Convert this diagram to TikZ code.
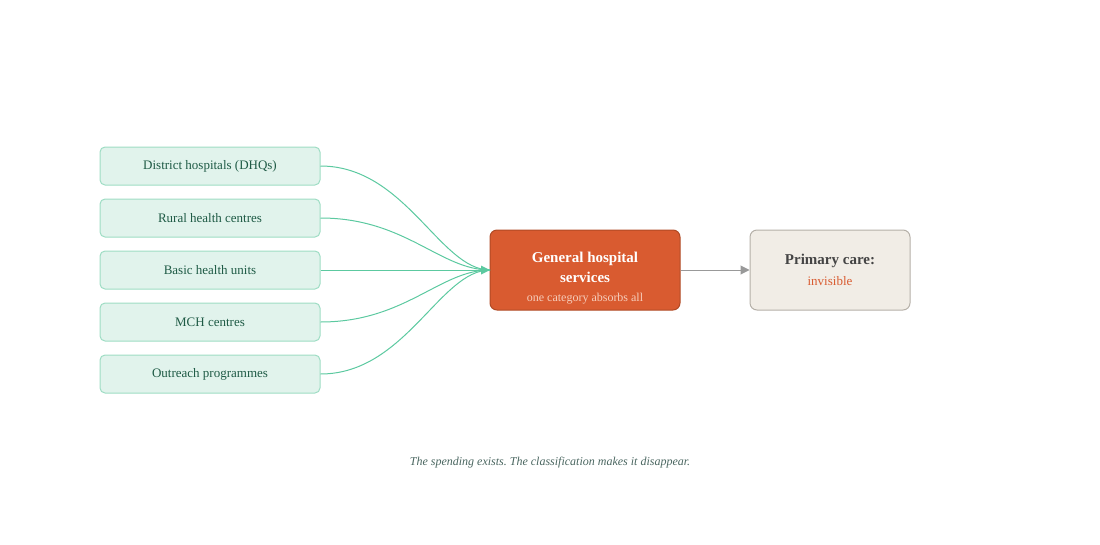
\documentclass[tikz,border=0pt]{standalone}
\usepackage{fontspec}
\setmainfont{Liberation Serif}
\usetikzlibrary{arrows.meta,calc}
\frenchspacing
\definecolor{srcfill}{HTML}{E1F3EC}
\definecolor{srcdraw}{HTML}{9EDDC4}
\definecolor{srctext}{HTML}{1E5A45}
\definecolor{linkc}{HTML}{5CC9A0}
\definecolor{hubfill}{HTML}{D95B30}
\definecolor{hubdraw}{HTML}{B04A25}
\definecolor{hubsub}{HTML}{F6CDBB}
\definecolor{pcfill}{HTML}{F1EDE6}
\definecolor{pcdraw}{HTML}{B5B0A8}
\definecolor{pctext}{HTML}{444444}
\definecolor{grayarrow}{HTML}{999999}
\definecolor{captionc}{HTML}{4A6660}
\tikzset{
  src/.style={draw=srcdraw, fill=srcfill, rounded corners=5pt, line width=1pt,
    minimum width=220pt, minimum height=38pt, inner sep=0pt, text=srctext,
    font=\fontsize{13}{15}\selectfont},
  hub/.style={draw=hubdraw, fill=hubfill, rounded corners=7pt, line width=1pt,
    minimum width=190pt, minimum height=80pt, inner sep=0pt},
  pc/.style={draw=pcdraw, fill=pcfill, rounded corners=7pt, line width=1pt,
    minimum width=160pt, minimum height=80pt, inner sep=0pt},
  link/.style={draw=linkc, line width=1pt},
  txt/.style={inner sep=0pt, anchor=base}
}
\begin{document}
\begin{tikzpicture}[x=1pt,y=-1pt]
\useasboundingbox (0,0) rectangle (1100,544);
\node[src] (s1) at (210,166) {District hospitals (DHQs)};
\node[src] (s2) at (210,218) {Rural health centres};
\node[src] (s3) at (210,270) {Basic health units};
\node[src] (s4) at (210,322) {MCH centres};
\node[src] (s5) at (210,374) {Outreach programmes};
\node[hub] (hub) at (585,270) {};
\node[txt, text=white, font=\fontsize{15}{18}\bfseries\selectfont] (h1) at (585,262) {General hospital};
\node[txt, text=white, font=\fontsize{15}{18}\bfseries\selectfont] (h2) at (585,282) {services};
\node[txt, text=hubsub, font=\fontsize{12}{14}\selectfont] (h3) at (585,301) {one category absorbs all};
\node[pc] (pc) at (830,270) {};
\node[txt, text=pctext, font=\fontsize{15}{18}\bfseries\selectfont] (p1) at (830,264) {Primary care:};
\node[txt, text=hubfill, font=\fontsize{13}{15}\selectfont] (p2) at (830,285) {invisible};
\coordinate (tip) at (490,270);
\foreach \i in {1,2,4,5}{
  \draw[link] (s\i.east) .. controls ($(s\i.east)+(85,0)$) and (440,270) .. (tip);
}
\draw[link] (s3.east) -- (tip);
\fill[linkc] (490,270) -- (481,265.5) -- (481,274.5) -- cycle;
\draw[grayarrow, line width=1pt, -{Triangle[length=9pt,width=9pt]}] (hub.east) -- (pc.west);
\node[txt, text=captionc, font=\fontsize{12}{14}\itshape\selectfont] (cap) at (550,465) {The spending exists. The classification makes it disappear.};
\end{tikzpicture}
\end{document}
